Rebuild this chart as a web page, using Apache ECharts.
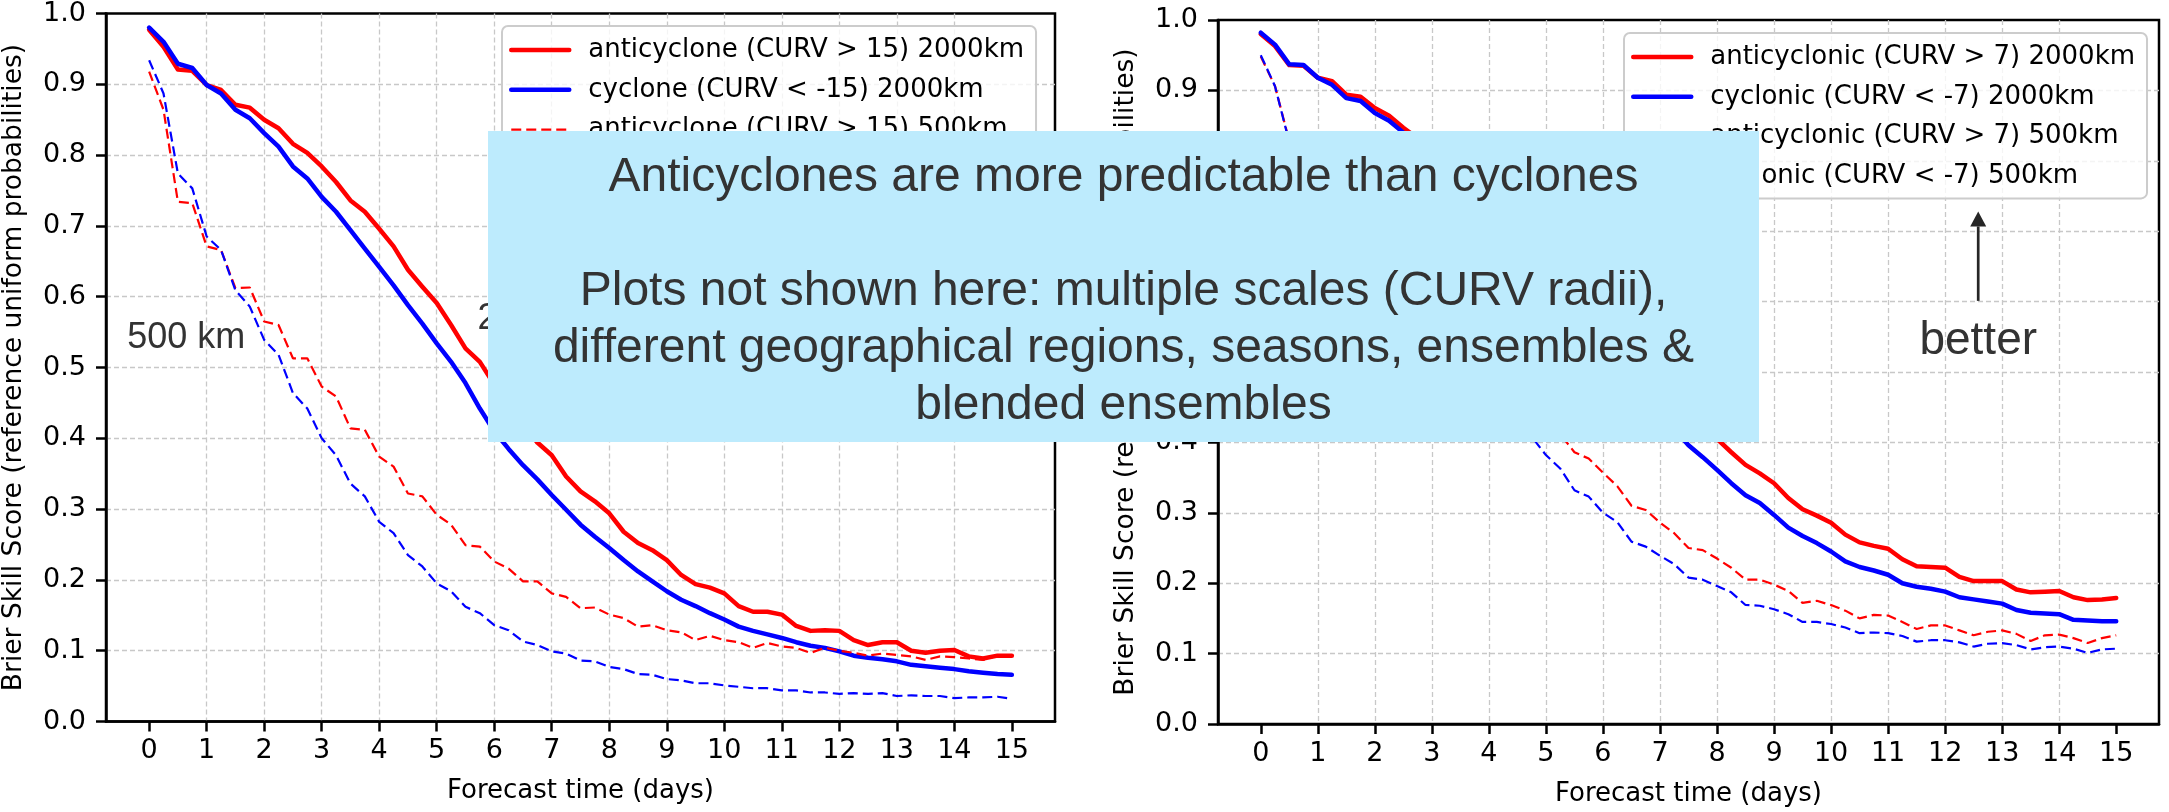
<!DOCTYPE html>
<html><head><meta charset="utf-8">
<script src="https://cdn.jsdelivr.net/npm/echarts@6/dist/echarts.min.js"></script>
<style>html,body{margin:0;padding:0;background:#fff}#c{width:2169px;height:812px}</style>
</head><body><div id="c"></div>
<script>
// Forecast times (days), 6-hourly
const days = [0,0.25,0.5,0.75,1,1.25,1.5,1.75,2,2.25,2.5,2.75,3,3.25,3.5,3.75,4,4.25,4.5,4.75,5,5.25,5.5,5.75,6,6.25,6.5,6.75,7,7.25,7.5,7.75,8,8.25,8.5,8.75,9,9.25,9.5,9.75,10,10.25,10.5,10.75,11,11.25,11.5,11.75,12,12.25,12.5,12.75,13,13.25,13.5,13.75,14,14.25,14.5,14.75,15];
const xTickValues = [0,1,2,3,4,5,6,7,8,9,10,11,12,13,14,15];

// Left panel (CURV +/-15)
const leftNames = ['anticyclone (CURV > 15) 2000km','cyclone (CURV < -15) 2000km','anticyclone (CURV > 15) 500km','cyclone (CURV < -15) 500km'];
const leftAnti2000 = [0.977,0.953,0.921,0.919,0.899,0.892,0.871,0.867,0.850,0.838,0.816,0.803,0.784,0.762,0.736,0.720,0.696,0.671,0.638,0.614,0.591,0.560,0.527,0.508,0.476,0.450,0.421,0.394,0.376,0.346,0.325,0.311,0.294,0.268,0.252,0.242,0.228,0.207,0.194,0.189,0.181,0.163,0.155,0.155,0.151,0.135,0.128,0.129,0.128,0.115,0.108,0.112,0.112,0.100,0.097,0.100,0.101,0.092,0.089,0.093,0.093];
const leftCyc2000 = [0.980,0.960,0.929,0.923,0.899,0.887,0.864,0.852,0.831,0.812,0.784,0.767,0.741,0.720,0.694,0.668,0.642,0.616,0.588,0.562,0.534,0.508,0.478,0.442,0.410,0.385,0.362,0.342,0.320,0.299,0.278,0.261,0.245,0.228,0.212,0.198,0.184,0.172,0.163,0.153,0.144,0.134,0.128,0.123,0.118,0.112,0.107,0.104,0.099,0.093,0.090,0.088,0.085,0.080,0.078,0.076,0.074,0.071,0.069,0.067,0.066];
const leftAnti500 = [0.918,0.864,0.734,0.732,0.671,0.666,0.612,0.613,0.565,0.560,0.513,0.513,0.473,0.459,0.414,0.412,0.374,0.360,0.322,0.318,0.292,0.278,0.249,0.247,0.226,0.216,0.198,0.198,0.181,0.176,0.160,0.161,0.151,0.146,0.134,0.136,0.129,0.126,0.115,0.121,0.115,0.112,0.104,0.111,0.106,0.104,0.097,0.104,0.100,0.097,0.093,0.096,0.094,0.092,0.087,0.092,0.091,0.089,0.087,0.093,0.092];
const leftCyc500 = [0.934,0.887,0.774,0.753,0.685,0.666,0.609,0.586,0.539,0.518,0.464,0.442,0.400,0.376,0.336,0.318,0.282,0.266,0.235,0.219,0.195,0.184,0.162,0.153,0.136,0.129,0.113,0.108,0.099,0.096,0.086,0.085,0.077,0.074,0.067,0.066,0.060,0.058,0.054,0.054,0.051,0.049,0.047,0.047,0.044,0.044,0.041,0.041,0.039,0.040,0.039,0.040,0.036,0.037,0.036,0.036,0.033,0.034,0.034,0.035,0.032];

// Right panel (CURV +/-7)
const rightNames = ['anticyclonic (CURV > 7) 2000km','cyclonic (CURV < -7) 2000km','anticyclonic (CURV > 7) 500km','cyclonic (CURV < -7) 500km'];
const rightAnti2000 = [0.980,0.963,0.936,0.935,0.918,0.913,0.894,0.891,0.875,0.864,0.847,0.832,0.815,0.797,0.780,0.761,0.742,0.721,0.700,0.681,0.660,0.637,0.616,0.594,0.572,0.549,0.528,0.506,0.485,0.465,0.445,0.426,0.405,0.386,0.368,0.356,0.342,0.321,0.305,0.296,0.286,0.269,0.258,0.253,0.249,0.234,0.224,0.223,0.222,0.209,0.203,0.203,0.203,0.191,0.187,0.188,0.189,0.180,0.176,0.177,0.179];
const rightCyc2000 = [0.982,0.965,0.937,0.936,0.918,0.908,0.889,0.885,0.868,0.857,0.840,0.819,0.797,0.775,0.752,0.731,0.707,0.686,0.663,0.641,0.618,0.597,0.574,0.552,0.530,0.508,0.485,0.463,0.441,0.419,0.396,0.379,0.361,0.342,0.325,0.314,0.297,0.279,0.267,0.257,0.245,0.231,0.223,0.218,0.212,0.200,0.195,0.192,0.188,0.180,0.177,0.174,0.171,0.162,0.158,0.157,0.156,0.148,0.147,0.146,0.146];
const rightAnti500 = [0.948,0.906,0.828,0.800,0.765,0.745,0.715,0.700,0.672,0.655,0.630,0.612,0.588,0.570,0.547,0.530,0.505,0.490,0.465,0.450,0.428,0.412,0.386,0.377,0.357,0.338,0.310,0.304,0.286,0.271,0.250,0.247,0.235,0.222,0.205,0.205,0.198,0.189,0.172,0.175,0.169,0.161,0.150,0.155,0.154,0.145,0.135,0.140,0.140,0.133,0.126,0.131,0.133,0.128,0.118,0.126,0.127,0.122,0.115,0.122,0.126];
const rightCyc500 = [0.950,0.906,0.826,0.795,0.758,0.735,0.703,0.685,0.655,0.635,0.607,0.588,0.560,0.540,0.513,0.495,0.468,0.450,0.425,0.408,0.382,0.363,0.332,0.323,0.300,0.287,0.259,0.252,0.239,0.227,0.208,0.205,0.196,0.187,0.169,0.168,0.163,0.156,0.145,0.145,0.142,0.137,0.129,0.130,0.129,0.125,0.117,0.119,0.119,0.116,0.110,0.114,0.115,0.112,0.106,0.109,0.110,0.107,0.101,0.106,0.107];

// Annotation texts
const overlayLines = ['Anticyclones are more predictable than cyclones','','Plots not shown here: multiple scales (CURV radii),','different geographical regions, seasons, ensembles &','blended ensembles'];
const yName = 'Brier Skill Score (reference uniform probabilities)';
const xName = 'Forecast time (days)';

const MPL = 'DejaVu Sans';
const ARIAL = 'Liberation Sans';
const RED = '#ff0000', BLUE = '#0000ff';
const SOLID_W = 4.5, DASH_W = 2.2, DASH = [10,5];

function pairs(vals){ return days.map((d,i)=>[d, vals[i]]); }

function xAxisCfg(gi){
  return {
    type:'value', gridIndex:gi, min:-0.75, max:15.75,
    axisLine:{show:true, onZero:false, lineStyle:{color:'#000', width:2.5}},
    axisTick:{show:true, length:10, lineStyle:{color:'#000', width:2.5}, customValues:xTickValues},
    axisLabel:{customValues:xTickValues, fontSize:27, fontFamily:MPL, color:'#000', margin:16},
    splitLine:{show:true, showMinLine:false, showMaxLine:false, lineStyle:{color:'#c8c8c8', width:1.3, type:[5,3]}},
    name:xName, nameLocation:'middle', nameGap:57,
    nameTextStyle:{fontSize:26, fontFamily:MPL, color:'#000'}
  };
}
function yAxisCfg(gi){
  return {
    type:'value', gridIndex:gi, min:0, max:1, interval:0.1,
    axisLine:{show:true, onZero:false, lineStyle:{color:'#000', width:2.5}},
    axisTick:{show:true, length:10, lineStyle:{color:'#000', width:2.5}},
    axisLabel:{formatter:v=>v.toFixed(1), fontSize:27, fontFamily:MPL, color:'#000', margin:20},
    splitLine:{show:true, showMinLine:false, showMaxLine:false, lineStyle:{color:'#c8c8c8', width:1.3, type:[5,3]}},
    name:yName, nameLocation:'middle', nameGap:78,
    nameTextStyle:{fontSize:26.5, fontFamily:MPL, color:'#000'}
  };
}
function lineSeries(name, vals, gi, color, dashed){
  return {
    type:'line', name, xAxisIndex:gi, yAxisIndex:gi, data:pairs(vals),
    symbol:'none', showSymbol:false, smooth:false,
    lineStyle: dashed ? {color, width:DASH_W, type:DASH} : {color, width:SOLID_W, cap:'round', join:'round'},
    itemStyle:{color}
  };
}
function legendCfg(names, left, top){
  return {
    orient:'vertical', left, top,
    data: names.map((n,i)=>({name:n, lineStyle:{width: i<2 ? SOLID_W : DASH_W}})),
    itemWidth:58, itemHeight:26, itemGap:13.8,
    itemStyle:{opacity:0, borderWidth:0},
    padding:[11,12,9,7], backgroundColor:'rgba(255,255,255,0.8)', borderColor:'#cccccc', borderWidth:2, borderRadius:6,
    textStyle:{fontSize:26, fontFamily:MPL, color:'#000', padding:[0,0,0,14], lineHeight:26},
    selectedMode:false, z:5
  };
}

const option = {
  animation:false,
  backgroundColor:'#fff',
  grid:[
    {left:106, top:13.5, width:949, height:708, show:true, borderColor:'#000', borderWidth:2.5, backgroundColor:'transparent'},
    {left:1218, top:20, width:941, height:709, show:true, borderColor:'#000', borderWidth:2.5, backgroundColor:'transparent'}
  ],
  xAxis:[xAxisCfg(0), xAxisCfg(1)],
  yAxis:[yAxisCfg(0), yAxisCfg(1)],
  legend:[legendCfg(leftNames, 502, 26), legendCfg(rightNames, 1624, 33)],
  series:[
    lineSeries(leftNames[0], leftAnti2000, 0, RED, false),
    lineSeries(leftNames[1], leftCyc2000, 0, BLUE, false),
    lineSeries(leftNames[2], leftAnti500, 0, RED, true),
    lineSeries(leftNames[3], leftCyc500, 0, BLUE, true),
    lineSeries(rightNames[0], rightAnti2000, 1, RED, false),
    lineSeries(rightNames[1], rightCyc2000, 1, BLUE, false),
    lineSeries(rightNames[2], rightAnti500, 1, RED, true),
    lineSeries(rightNames[3], rightCyc500, 1, BLUE, true)
  ]
};

const chart = echarts.init(document.getElementById('c'), null, {renderer:'canvas'});
chart.setOption(option);

// Annotations placed in data coordinates
const px = (gi, pt) => chart.convertToPixel({gridIndex:gi}, pt);
const p500 = px(0, [-0.38, 0.542]);
const p2000 = px(0, [5.71, 0.568]);
const arrowBase = px(1, [12.58, 0.601]);
const arrowTip = px(1, [12.58, 0.728]);
const pBetter = px(1, [12.58, 0.543]);
const headH = 15, headW = 16;

chart.setOption({
  graphic:{elements:[
    {type:'text', z:50, style:{text:'500 km', x:p500[0], y:p500[1], font:'36px "'+ARIAL+'"', fill:'#333', align:'left', verticalAlign:'middle', textAlign:'left', textVerticalAlign:'middle'}},
    {type:'text', z:50, style:{text:'2000 km', x:p2000[0], y:p2000[1], font:'36px "'+ARIAL+'"', fill:'#333', align:'left', verticalAlign:'middle', textAlign:'left', textVerticalAlign:'middle'}},
    {type:'line', z:50, shape:{x1:arrowBase[0], y1:arrowBase[1], x2:arrowTip[0], y2:arrowTip[1]+headH}, style:{stroke:'#262626', lineWidth:2.7}},
    {type:'polygon', z:50, shape:{points:[[arrowTip[0]-headW/2, arrowTip[1]+headH],[arrowTip[0]+headW/2, arrowTip[1]+headH],[arrowTip[0], arrowTip[1]]]}, style:{fill:'#262626'}},
    {type:'text', z:50, style:{text:'better', x:pBetter[0], y:pBetter[1], font:'46px "'+ARIAL+'"', fill:'#333', align:'center', verticalAlign:'middle', textAlign:'center', textVerticalAlign:'middle'}},
    {type:'rect', z:100, shape:{x:488, y:131, width:1271, height:311}, style:{fill:'#bdebfd'}},
    {type:'text', z:101, style:{text:overlayLines.join('\n'), x:1123.5, y:291.5, font:'48px "'+ARIAL+'"', fill:'#333', align:'center', verticalAlign:'middle', textAlign:'center', textVerticalAlign:'middle', lineHeight:57}}
  ]}
});
</script>
</body></html>
